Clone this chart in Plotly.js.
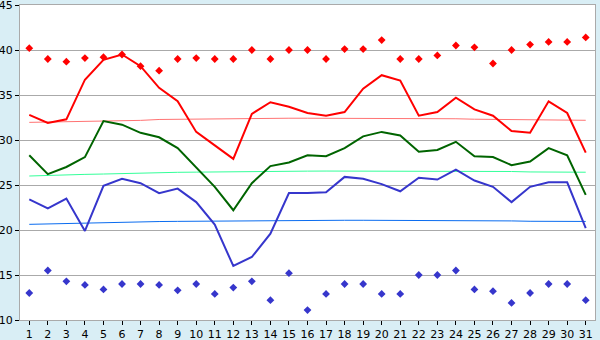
<!DOCTYPE html>
<html>
<head>
<meta charset="utf-8">
<script src="https://cdn.plot.ly/plotly-3.0.1.min.js"></script>
<style>html,body{margin:0;padding:0;background:#d9eef5;}#chart{width:600px;height:340px;}</style>
</head>
<body>
<div id="chart"></div>
<script>
const days = [1,2,3,4,5,6,7,8,9,10,11,12,13,14,15,16,17,18,19,20,21,22,23,24,25,26,27,28,29,30,31];
const tickLabels = days.map(String);

const maxTemp  = [32.8,31.9,32.3,36.7,38.9,39.5,38.2,35.8,34.3,30.9,29.4,27.9,32.9,34.2,33.7,33.0,32.7,33.1,35.7,37.2,36.6,32.7,33.1,34.7,33.4,32.7,31.0,30.8,34.3,33.0,28.6];
const meanTemp = [28.3,26.2,27.0,28.1,32.1,31.7,30.8,30.3,29.1,26.9,24.8,22.2,25.2,27.1,27.5,28.3,28.2,29.1,30.4,30.9,30.5,28.7,28.9,29.8,28.2,28.1,27.2,27.6,29.1,28.3,23.9];
const minTemp  = [23.4,22.4,23.5,19.9,24.9,25.7,25.2,24.1,24.6,23.1,20.6,16.0,17.0,19.6,24.1,24.1,24.2,25.9,25.7,25.1,24.3,25.8,25.6,26.7,25.5,24.8,23.1,24.8,25.3,25.3,20.2];
const recordMax = [40.2,39.0,38.7,39.1,39.2,39.5,38.2,37.7,39.0,39.1,39.0,39.0,40.0,39.0,40.0,40.0,39.0,40.1,40.1,41.1,39.0,39.0,39.4,40.5,40.3,38.5,40.0,40.6,40.9,40.9,41.4];
const recordMin = [13.0,15.5,14.3,13.9,13.4,14.0,14.0,13.9,13.3,14.0,12.9,13.6,14.3,12.2,15.2,11.1,12.9,14.0,14.0,12.9,12.9,15.0,15.0,15.5,13.4,13.2,11.9,13.0,14.0,14.0,12.2];
const normalMax  = [31.96,31.99,32.02,32.05,32.12,32.15,32.18,32.28,32.31,32.34,32.38,32.40,32.41,32.41,32.42,32.42,32.42,32.41,32.41,32.40,32.39,32.38,32.37,32.36,32.31,32.29,32.27,32.25,32.23,32.21,32.19];
const normalMean = [26.00,26.08,26.12,26.18,26.22,26.28,26.33,26.38,26.41,26.43,26.46,26.49,26.51,26.52,26.53,26.54,26.55,26.55,26.55,26.55,26.55,26.55,26.54,26.53,26.52,26.51,26.50,26.45,26.44,26.43,26.42];
const normalMin  = [20.63,20.68,20.73,20.80,20.84,20.87,20.91,20.94,20.96,20.98,21.01,21.03,21.06,21.07,21.07,21.08,21.08,21.08,21.08,21.08,21.07,21.07,21.06,21.05,21.04,21.02,21.01,20.97,20.96,20.96,20.95];

const traces = [
  {x: days, y: normalMax, mode: 'lines', line: {color: '#ff7373', width: 1}, hoverinfo: 'skip'},
  {x: days, y: normalMean, mode: 'lines', line: {color: '#33ff99', width: 1}, hoverinfo: 'skip'},
  {x: days, y: normalMin, mode: 'lines', line: {color: '#0a6cf0', width: 1}, hoverinfo: 'skip'},
  {x: days, y: maxTemp, mode: 'lines', line: {color: '#ff0000', width: 2}},
  {x: days, y: meanTemp, mode: 'lines', line: {color: '#006400', width: 2}},
  {x: days, y: minTemp, mode: 'lines', line: {color: '#3636cc', width: 2}},
  {x: days, y: recordMax, mode: 'markers', marker: {symbol: 'diamond', size: 6, color: '#ff0000'}},
  {x: days, y: recordMin, mode: 'markers', marker: {symbol: 'diamond', size: 6, color: '#3636cc'}}
];

const layout = {
  width: 600, height: 340,
  margin: {l: 20, r: 5, t: 5, b: 20, pad: 0},
  paper_bgcolor: '#d9eef5',
  plot_bgcolor: '#ffffff',
  showlegend: false,
  font: {family: 'DejaVu Sans, Verdana, sans-serif', size: 11, color: '#000000'},
  xaxis: {
    range: [0.5, 31.5], tickvals: days, ticktext: tickLabels,
    showgrid: false, zeroline: false,
    showline: true, linecolor: '#aaaaaa', linewidth: 1, mirror: true,
    ticks: 'outside', ticklen: 4, tickcolor: '#000000', tickwidth: 1,
    ticklabeloverflow: 'allow',
    tickfont: {size: 11, color: '#000000'}
  },
  yaxis: {
    range: [10, 45], dtick: 5, tick0: 10,
    showgrid: true, gridcolor: '#aaaaaa', gridwidth: 1, zeroline: false,
    showline: true, linecolor: '#aaaaaa', linewidth: 1, mirror: true,
    ticks: 'outside', ticklen: 4, tickcolor: '#000000', tickwidth: 1,
    ticklabeloverflow: 'allow',
    tickfont: {size: 11, color: '#000000'}
  }
};

Plotly.newPlot('chart', traces, layout, {staticPlot: true, displayModeBar: false});
</script>
</body>
</html>
